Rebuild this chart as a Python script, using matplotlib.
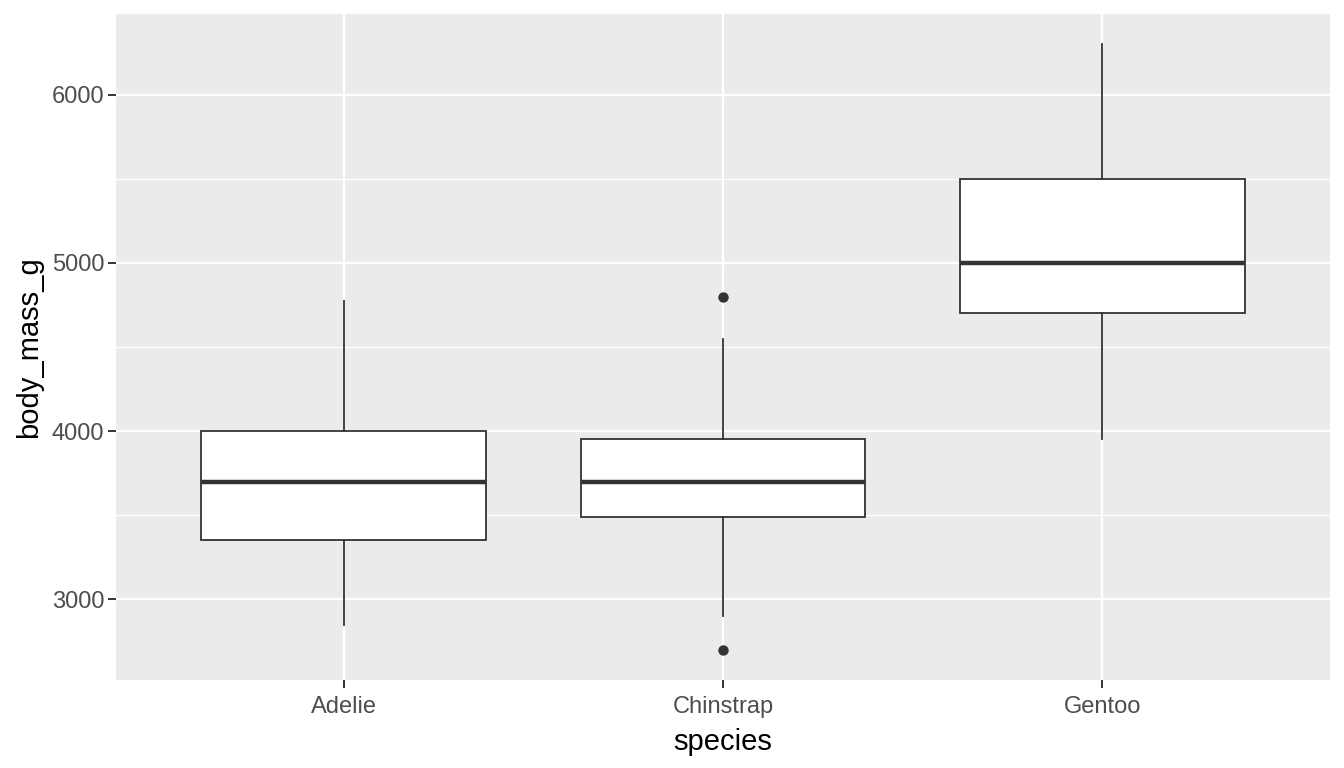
import matplotlib.pyplot as plt
from matplotlib.ticker import MultipleLocator

# Box statistics (body mass in grams)
species = ['Adelie', 'Chinstrap', 'Gentoo']
q1 = [3350, 3487.5, 4700]
median = [3700, 3700, 5000]
q3 = [4000, 3950, 5500]
whisker_low = [2850, 2900, 3950]
whisker_high = [4775, 4550, 6300]
outliers = [[], [4800, 2700], []]

plt.rcParams['font.family'] = ['Liberation Sans', 'DejaVu Sans']

fig = plt.figure(figsize=(13.44, 7.68), dpi=100)
ax = fig.add_axes([116 / 1344, 88 / 768, (1330 - 116) / 1344, (680 - 14) / 768])

ax.set_facecolor('#EBEBEB')
for s in ax.spines.values():
    s.set_visible(False)

stats = []
for i, name in enumerate(species):
    stats.append({'label': name, 'q1': q1[i], 'med': median[i], 'q3': q3[i],
                  'whislo': whisker_low[i], 'whishi': whisker_high[i],
                  'fliers': outliers[i]})

positions = list(range(1, len(species) + 1))
line_col = '#333333'
ax.bxp(stats, positions=positions, widths=0.75, showcaps=False,
       patch_artist=True,
       boxprops=dict(facecolor='white', edgecolor=line_col, linewidth=1.3),
       medianprops=dict(color=line_col, linewidth=3.2),
       whiskerprops=dict(color=line_col, linewidth=1.3),
       flierprops=dict(marker='o', markerfacecolor=line_col,
                       markeredgecolor=line_col, markersize=6.5),
       zorder=3)

ax.set_xlim(0.4, 3.6)
ax.set_ylim(2520, 6480)
ax.yaxis.set_major_locator(MultipleLocator(1000))
ax.yaxis.set_minor_locator(MultipleLocator(500))
ax.set_xticks(positions)
ax.set_xticklabels(species)

ax.grid(which='major', color='white', linewidth=1.6, zorder=0)
ax.grid(which='minor', axis='y', color='white', linewidth=0.8, zorder=0)
ax.set_axisbelow(True)

ax.tick_params(which='major', length=5.5, width=1.4, color='#333333',
               labelcolor='#4D4D4D', labelsize=17, pad=3)
ax.tick_params(axis='x', which='major', pad=6)
ax.tick_params(which='minor', length=0)

ax.set_xlabel('species', fontsize=21, color='black', labelpad=7)
ax.set_ylabel('body_mass_g', fontsize=21, color='black', labelpad=6)

fig.savefig('out.png', dpi=100)
